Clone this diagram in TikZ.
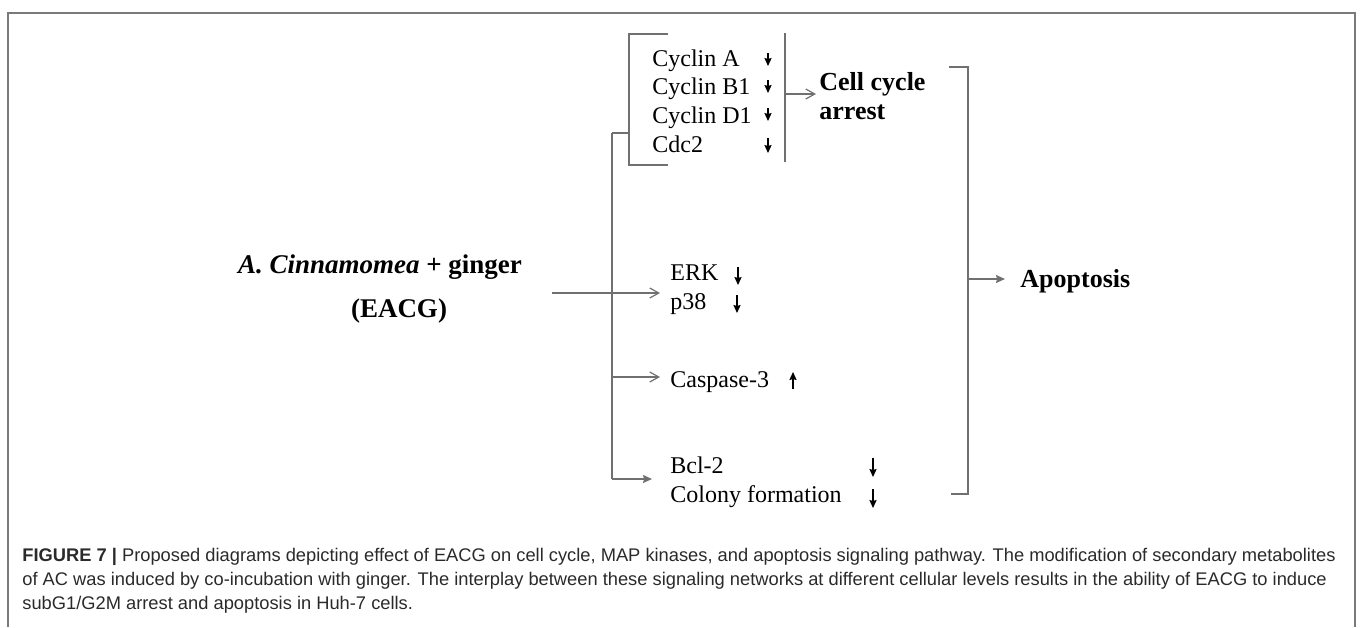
\documentclass[tikz,border=0pt]{standalone}
\usepackage{fontspec}
\setmainfont{Liberation Serif}
\newfontfamily\capfont{Liberation Sans}
\usetikzlibrary{arrows.meta}
\definecolor{linegray}{HTML}{707070}
\definecolor{framegray}{HTML}{7A7A7A}
\definecolor{captext}{HTML}{2A2A2A}
\begin{document}
\begin{tikzpicture}[x=0.5pt,y=-0.5pt,
  conn/.style={draw=linegray,line width=0.7pt},
  openarrow/.style={conn,-{Straight Barb[length=4.5pt,width=5pt,line width=0.6pt]}},
  fillarrow/.style={conn,-{Stealth[length=4.5pt,width=4pt,inset=0.6pt]}},
  updown/.style={draw=black,line width=0.55pt,-{Stealth[length=4pt,width=3.6pt,inset=0.5pt]}},
  lbl/.style={inner sep=0pt,anchor=base west,font=\fontsize{12}{14}\selectfont},
  blbl/.style={inner sep=0pt,anchor=base west,font=\fontsize{13}{14.5}\selectfont\bfseries},
  captxt/.style={inner sep=0pt,anchor=base west,text=captext,font=\capfont\fontsize{9.15}{11}\selectfont}]
\useasboundingbox (0,0) rectangle (1360,627);
% frame
\draw[framegray,line width=1pt] (8,627) -- (8,13) -- (1355,13) -- (1355,627);

% source
\node[inner sep=0pt,anchor=base,font=\fontsize{13.5}{15}\selectfont\bfseries] (src) at (380,273) {\textit{A. Cinnamomea} + ginger};
\node[inner sep=0pt,anchor=base,font=\fontsize{13.5}{15}\selectfont\bfseries] (eacg) at (399,317) {(EACG)};

% cyclin group
\node[lbl] (cycA) at (652,66) {Cyclin A};
\node[lbl] (cycB) at (652,94) {Cyclin B1};
\node[lbl] (cycD) at (652,123) {Cyclin D1};
\node[lbl] (cdc) at (652,152) {Cdc2};
\node[blbl,align=left] (cca) at (819,119) {Cell cycle\\arrest};

% MAPK
\node[lbl] (erk) at (670,280) {ERK};
\node[lbl] (p38) at (670,309) {p38};
\node[lbl] (casp) at (670,387) {Caspase-3};
\node[lbl] (bcl) at (670,473) {Bcl-2};
\node[lbl] (colony) at (670,502) {Colony formation};
\node[blbl] (apop) at (1020,287) {Apoptosis};

% coordinates
\coordinate (srcend) at (552,293);
\coordinate (bt) at (629,34);
\coordinate (bb) at (629,165);
\coordinate (bj) at (629,133);
\coordinate (vj) at (612,133);
\coordinate (vb) at (612,479);
\coordinate (vc) at (612,377);
\coordinate (rt) at (785,33);
\coordinate (rb) at (785,162);
\coordinate (rm) at (785,94);
\coordinate (at) at (968,67);
\coordinate (ab) at (968,494);
\coordinate (am) at (968,279);

% cyclin bracket
\draw[conn] (668,34) -- (bt) -- (bb) -- (668,165);
\draw[conn] (vj) -- (bj);
\draw[conn] (vj) -- (vb);
\draw[conn] (rt) -- (rb);
\draw[openarrow] (rm) -- (816,94);

% source arrow
\draw[openarrow] (srcend) -- (660,293);
\draw[openarrow] (vc) -- (660,377);
\draw[fillarrow] (vb) -- (652,479);

% apoptosis bracket
\draw[conn] (949,67) -- (at) -- (ab) -- (951,494);
\draw[fillarrow] (am) -- (1005,279);

% small arrows
\draw[updown] (768,53) -- (768,66);
\draw[updown] (768,80) -- (768,93);
\draw[updown] (768,108) -- (768,121);
\draw[updown] (768,138) -- (768,153);
\draw[updown] (738,267) -- (738,285);
\draw[updown] (737,295) -- (737,313);
\draw[updown] (793,389) -- (793,372);
\draw[updown] (873,458) -- (873,477);
\draw[updown] (873,489) -- (873,508);

% caption
\node[captxt] (c1) at (22,561) {\textbf{FIGURE 7 |} Proposed diagrams depicting effect of EACG on cell cycle, MAP kinases, and apoptosis signaling pathway. The modification of secondary metabolites};
\node[captxt] (c2) at (22,585) {of AC was induced by co-incubation with ginger. The interplay between these signaling networks at different cellular levels results in the ability of EACG to induce};
\node[captxt] (c3) at (22,609) {subG1/G2M arrest and apoptosis in Huh-7 cells.};
\end{tikzpicture}
\end{document}
